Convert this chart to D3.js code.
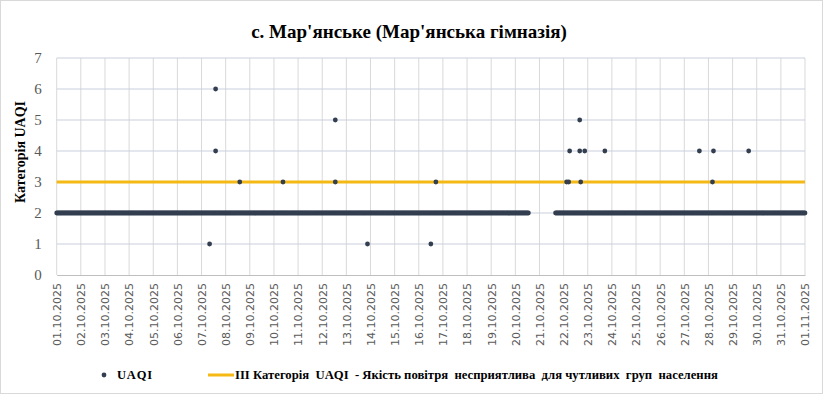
<!DOCTYPE html>
<html>
<head>
<meta charset="utf-8">
<script src="https://cdn.jsdelivr.net/npm/d3@7"></script>
<style>
	body { margin:0; background:#fff; }
	svg { display:block; }
	text { white-space: pre; }
</style>
</head>
<body>
<div id="chart"></div>
<script>
// chart texts
const title = "с. Мар'янське (Мар'янська гімназія)";
const yTitle = "Категорія UAQI";
const legendUaqi = "UAQI";
const legendLimit = "ІІІ Категорія  UAQI  - Якість повітря  несприятлива  для чутливих  груп  населення";

// axis
const timeRange = ["2025-10-01T00:00", "2025-11-01T00:00"];
const yTicks = [0, 1, 2, 3, 4, 5, 6, 7];
const limitValue = 3;

// hourly readings that stay at category 2 (start / end hour of each run)
const baseRuns = [
	{from: "2025-10-01T00:00", to: "2025-10-20T13:00", value: 2},
	{from: "2025-10-21T16:00", to: "2025-11-01T00:00", value: 2}
];

// readings that differ from category 2
const outlierTimes = [
	"2025-10-07T08:00", "2025-10-07T14:00", "2025-10-07T14:00",
	"2025-10-08T14:00", "2025-10-10T09:00", "2025-10-12T13:00",
	"2025-10-12T13:00", "2025-10-13T21:00", "2025-10-16T12:00",
	"2025-10-16T17:00", "2025-10-22T03:00", "2025-10-22T05:00",
	"2025-10-22T06:00", "2025-10-22T16:00", "2025-10-22T16:00",
	"2025-10-22T17:00", "2025-10-22T21:00", "2025-10-23T17:00",
	"2025-10-27T15:00", "2025-10-28T04:00", "2025-10-28T05:00",
	"2025-10-29T16:00"
];
const outlierValues = [
	1, 6, 4,
	3, 3, 5,
	3, 1, 1,
	3, 3, 3,
	4, 5, 4,
	3, 4, 4,
	4, 3, 4,
	4
];

const parse = d3.timeParse("%Y-%m-%dT%H:%M");

// expand runs into hourly points
const basePoints = [];
baseRuns.forEach(r => {
	d3.timeHour.range(parse(r.from), d3.timeHour.offset(parse(r.to), 1))
		.forEach(t => basePoints.push({t: t, v: r.value}));
});
const outliers = outlierTimes.map((t, i) => ({t: parse(t), v: outlierValues[i]}));

const width = 823, height = 394;
const margin = {t:58, r:18, b:119, l:56.7};
const w = width - margin.l - margin.r;
const h = height - margin.t - margin.b;

const svg = d3.select('#chart').append('svg')
	.attr('width', width)
	.attr('height', height);

// outer border
svg.append('rect')
	.attr('x', 0.5).attr('y', 0.5)
	.attr('width', width - 1).attr('height', height - 1)
	.attr('fill', '#fff')
	.attr('stroke', '#d9d9d9');

svg.append('text')
	.attr('x', 409).attr('y', 38)
	.attr('text-anchor', 'middle')
	.style('font-family', '"Liberation Serif", serif')
	.style('font-weight', 'bold')
	.style('font-size', '19px')
	.attr('fill', '#000')
	.text(title);

const plot = svg.append('g')
	.attr('transform', `translate(${margin.l},${margin.t})`);

const scaleX = d3.scaleTime().domain(timeRange.map(parse)).range([0, w]);
const scaleY = d3.scaleLinear().domain([0, 7]).range([h, 0]);

// gridlines
const days = d3.timeDay.range(parse(timeRange[0]), d3.timeDay.offset(parse(timeRange[1]), 1));
plot.append('g').selectAll('line')
	.data(days)
	.join('line')
	.attr('x1', d => scaleX(d)).attr('x2', d => scaleX(d))
	.attr('y1', 0).attr('y2', h)
	.attr('stroke', '#d9d9d9');

plot.append('g').selectAll('line')
	.data(yTicks.filter(d => d > 0))
	.join('line')
	.attr('x1', 0).attr('x2', w)
	.attr('y1', d => scaleY(d)).attr('y2', d => scaleY(d))
	.attr('stroke', '#c9d0dc');

// axes
const axisX = d3.axisBottom(scaleX)
	.tickValues(days)
	.tickSize(0)
	.tickFormat(d3.timeFormat("%d.%m.%Y"));

const axisXNode = plot.append('g')
	.attr('transform', `translate(0,${h})`)
	.call(axisX);
axisXNode.select('.domain').attr('stroke', '#bfbfbf');
axisXNode.selectAll('text')
	.attr('transform', 'rotate(-90)')
	.attr('x', -8).attr('y', 0).attr('dy', '0.35em')
	.attr('text-anchor', 'end')
	.attr('fill', '#595959')
	.style('font-family', '"DejaVu Sans", sans-serif')
	.style('font-size', '11px');

const axisY = d3.axisLeft(scaleY)
	.tickValues(yTicks)
	.tickFormat(d3.format('d'))
	.tickSize(0)
	.tickPadding(15);
const axisYNode = plot.append('g').call(axisY);
axisYNode.select('.domain').remove();
axisYNode.selectAll('text')
	.attr('fill', '#595959')
	.style('font-family', '"Liberation Serif", serif')
	.style('font-size', '15px');

svg.append('text')
	.attr('transform', `translate(25,152) rotate(-90)`)
	.attr('text-anchor', 'middle')
	.style('font-family', '"Liberation Serif", serif')
	.style('font-weight', 'bold')
	.style('font-size', '14px')
	.text(yTitle);

// limit line
plot.append('line')
	.attr('x1', 0).attr('x2', w)
	.attr('y1', scaleY(limitValue)).attr('y2', scaleY(limitValue))
	.attr('stroke', '#f4b914')
	.attr('stroke-width', 3);

// points
plot.append('g').selectAll('circle')
	.data(basePoints)
	.join('circle')
	.attr('cx', d => scaleX(d.t))
	.attr('cy', d => scaleY(d.v))
	.attr('r', 2.4)
	.attr('fill', '#333f50');

plot.append('g').selectAll('circle')
	.data(outliers)
	.join('circle')
	.attr('cx', d => scaleX(d.t))
	.attr('cy', d => scaleY(d.v))
	.attr('r', 2.4)
	.attr('fill', '#333f50');

// legend
const legend = svg.append('g').attr('transform', 'translate(0,375)');
legend.append('circle')
	.attr('cx', 104).attr('cy', 0).attr('r', 2.4)
	.attr('fill', '#333f50');
legend.append('text')
	.attr('x', 117).attr('y', 0).attr('dy', '0.35em')
	.style('font-family', '"Liberation Serif", serif')
	.style('font-weight', 'bold')
	.style('font-size', '12.5px')
	.style('letter-spacing', '0.8px')
	.text(legendUaqi);
legend.append('line')
	.attr('x1', 208).attr('x2', 234)
	.attr('y1', 0).attr('y2', 0)
	.attr('stroke', '#f4b914')
	.attr('stroke-width', 3);
legend.append('text')
	.attr('x', 235).attr('y', 0).attr('dy', '0.35em')
	.style('font-family', '"Liberation Serif", serif')
	.style('font-weight', 'bold')
	.style('font-size', '12.7px')
	.text(legendLimit);
</script>
</body>
</html>
